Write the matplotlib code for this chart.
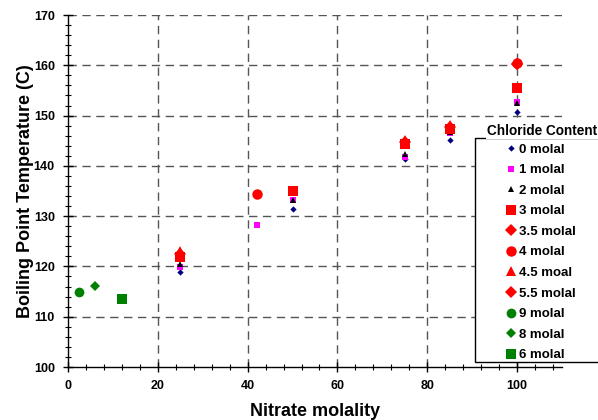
import matplotlib
matplotlib.use("Agg")
import matplotlib.pyplot as plt
from matplotlib.patches import Rectangle
from matplotlib.ticker import MultipleLocator, FixedLocator

plt.rcParams['font.family'] = ['Liberation Sans', 'DejaVu Sans']

labels = ["0 molal", "1 molal", "2 molal", "3 molal", "3.5 molal", "4 molal",
          "4.5 moal", "5.5 molal", "9 molal", "8 molal", "6 molal"]
x_vals = [
    [25, 50, 75, 85, 100],
    [25, 42, 50, 75, 85, 100],
    [25, 50, 75, 85, 100],
    [25, 50, 75, 85, 100],
    [25, 75, 85, 100],
    [42, 100],
    [25, 75, 85],
    [100],
    [2.5],
    [6],
    [12],
]
y_vals = [
    [118.8, 131.4, 141.4, 145.2, 150.7],
    [119.8, 128.2, 133.2, 141.8, 146.5, 152.6],
    [120.4, 133.3, 142.4, 146.8, 152.5],
    [121.8, 135.0, 144.3, 147.3, 155.5],
    [122.5, 144.8, 147.8, 160.3],
    [134.5, 160.5],
    [123.0, 145.2, 148.2],
    [160.2],
    [115.0],
    [116.2],
    [113.6],
]
colors = ["#000080", "#FF00FF", "#000000", "#FF0000", "#FF0000", "#FF0000",
          "#FF0000", "#FF0000", "#008000", "#008000", "#008000"]
markers = ["D", "s", "^", "s", "D", "o", "^", "D", "o", "D", "s"]
sizes = [3.2, 5, 5, 7.5, 6, 7.5, 7.5, 6, 7, 5.5, 7.5]

fig = plt.figure(figsize=(5.98, 4.2), dpi=100)
ax = fig.add_axes([68/598, 1-367/420, (562-68)/598, (367-15)/420])

handles = []
for xs, ys, c, m, s, lab in zip(x_vals, y_vals, colors, markers, sizes, labels):
    h, = ax.plot(xs, ys, linestyle='none', marker=m, color=c, markersize=s,
                 markeredgewidth=0, label=lab, zorder=3)
    handles.append(h)

ax.set_xlim(0, 110)
ax.set_ylim(100, 170)
ax.xaxis.set_major_locator(FixedLocator([0, 20, 40, 60, 80, 100]))
ax.xaxis.set_minor_locator(FixedLocator([v for v in range(0, 109, 4)]))
ax.yaxis.set_major_locator(MultipleLocator(10))
ax.yaxis.set_minor_locator(MultipleLocator(2))

for v in [20, 40, 60, 80, 100]:
    ax.axvline(v, color='#555555', linestyle=(0, (6, 4)), linewidth=1.0, zorder=1)
for v in [110, 120, 130, 140, 150, 160, 170]:
    ax.axhline(v, color='#555555', linestyle=(0, (6, 4)), linewidth=1.0, zorder=1)

for side in ['top', 'right']:
    ax.spines[side].set_visible(False)
for side in ['left', 'bottom']:
    ax.spines[side].set_color('black')
    ax.spines[side].set_linewidth(1.0)

ax.tick_params(which='both', direction='inout', color='black')
ax.tick_params(which='major', length=7, width=1)
ax.tick_params(which='minor', length=5, width=0.8)
ax.tick_params(axis='both', labelsize=9, pad=6)
for t in ax.get_xticklabels() + ax.get_yticklabels():
    t.set_fontweight('bold')

ax.set_xlabel("Nitrate molality", fontsize=13, fontweight='bold', labelpad=8)
ax.set_ylabel("Boiling Point Temperature (C)", fontsize=13, fontweight='bold', labelpad=0)

# legend box
fig.patches.append(Rectangle((475/598, 1-362/420), (610-475)/598, (362-138)/420,
                             transform=fig.transFigure, facecolor='white',
                             edgecolor='black', linewidth=1.0, zorder=5))
fig.text(487/598, 1-131/420, "Chloride Content", fontsize=9.8, fontweight='bold',
         va='center', ha='left', zorder=7,
         bbox=dict(facecolor='white', edgecolor='none', pad=1))
leg = fig.legend(handles=handles, loc='upper left',
                 bbox_to_anchor=(505/598, 1-143.5/420), frameon=False,
                 borderaxespad=0, borderpad=0, handlelength=0.95,
                 handletextpad=0.12, labelspacing=0.63,
                 prop={'size': 9.5, 'weight': 'bold'}, numpoints=1)
leg.set_zorder(8)

fig.savefig("out.png", dpi=100)
